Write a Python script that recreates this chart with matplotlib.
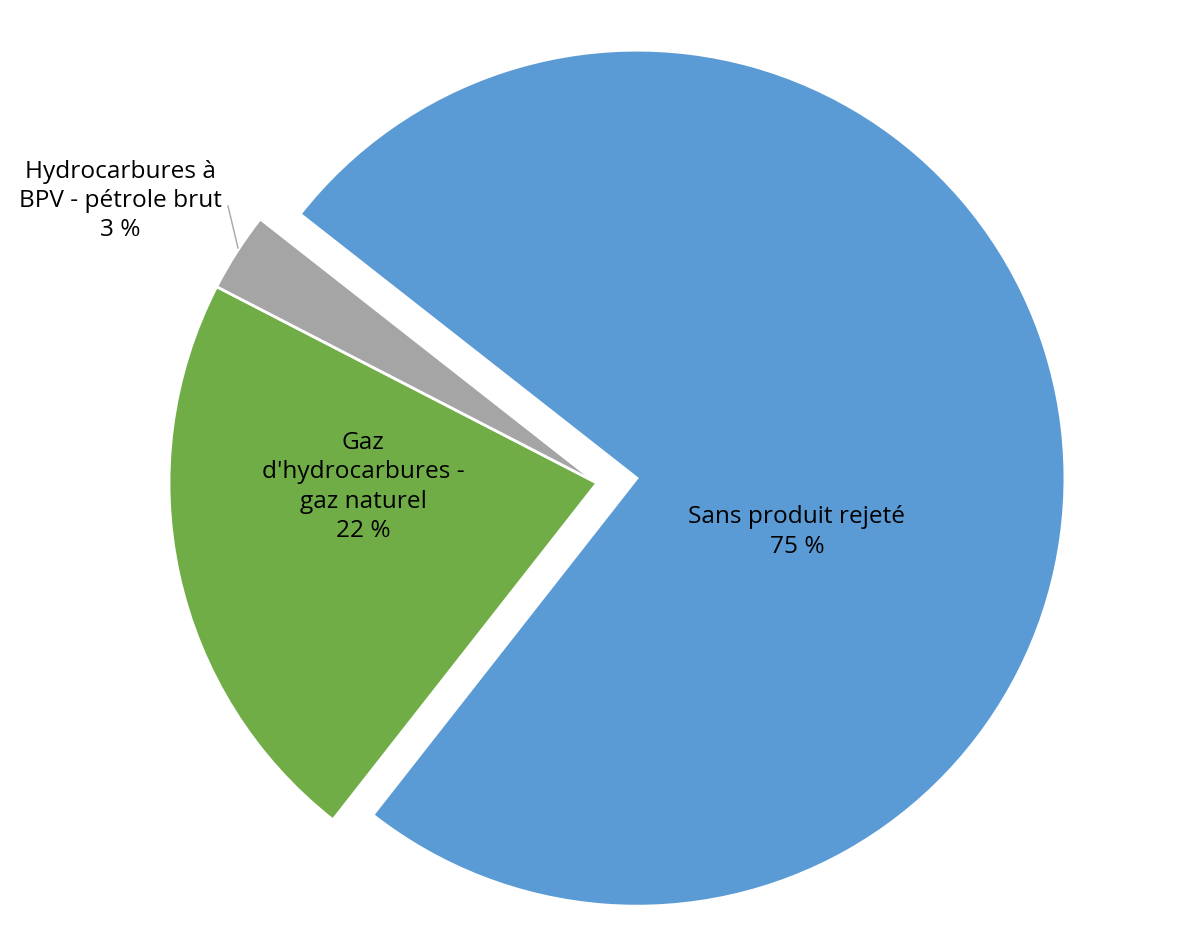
import matplotlib
matplotlib.use("Agg")
import matplotlib.pyplot as plt

# données
categories = ["Sans produit rejeté", "Gaz d'hydrocarbures -\ngaz naturel",
              "Hydrocarbures à\nBPV - pétrole brut"]
values = [75, 22, 3]
colors = ["#5B9BD5", "#70AD47", "#A5A5A5"]
explode = [0.094, 0, 0]

plt.rcParams["font.family"] = ["Open Sans", "DejaVu Sans"]

W, H = 1200, 938
fig = plt.figure(figsize=(W / 100, H / 100), dpi=100)
ax = fig.add_axes([0, 0, 1, 1])

cx, cy, r = 597, H - 483, 428
# explode est en unités de données quand radius != 1
wedges, _ = ax.pie(values, colors=colors, explode=[e * r for e in explode],
                   startangle=141.9, counterclock=False, center=(cx, cy), radius=r,
                   wedgeprops=dict(edgecolor="white", linewidth=2))

ax.set_xlim(0, W)
ax.set_ylim(0, H)
ax.set_aspect("equal")
ax.axis("off")

fs = 17.6
ls = 1.3
ax.text(797, H - 532, f"{categories[0]}\n{values[0]} %", ha="center", va="center",
        fontsize=fs, linespacing=ls, color="black")
ax.text(363, H - 487, f"Gaz\n{categories[1].replace('Gaz ', '')}\n{values[1]} %",
        ha="center", va="center", fontsize=fs, linespacing=ls, color="black")
ax.text(120, H - 201, f"{categories[2]}\n{values[2]} %", ha="center", va="center",
        fontsize=fs, linespacing=ls, color="black")
ax.plot([228, 238], [H - 206, H - 248], color="#A6A6A6", lw=1)

fig.savefig("out.png", dpi=100)
